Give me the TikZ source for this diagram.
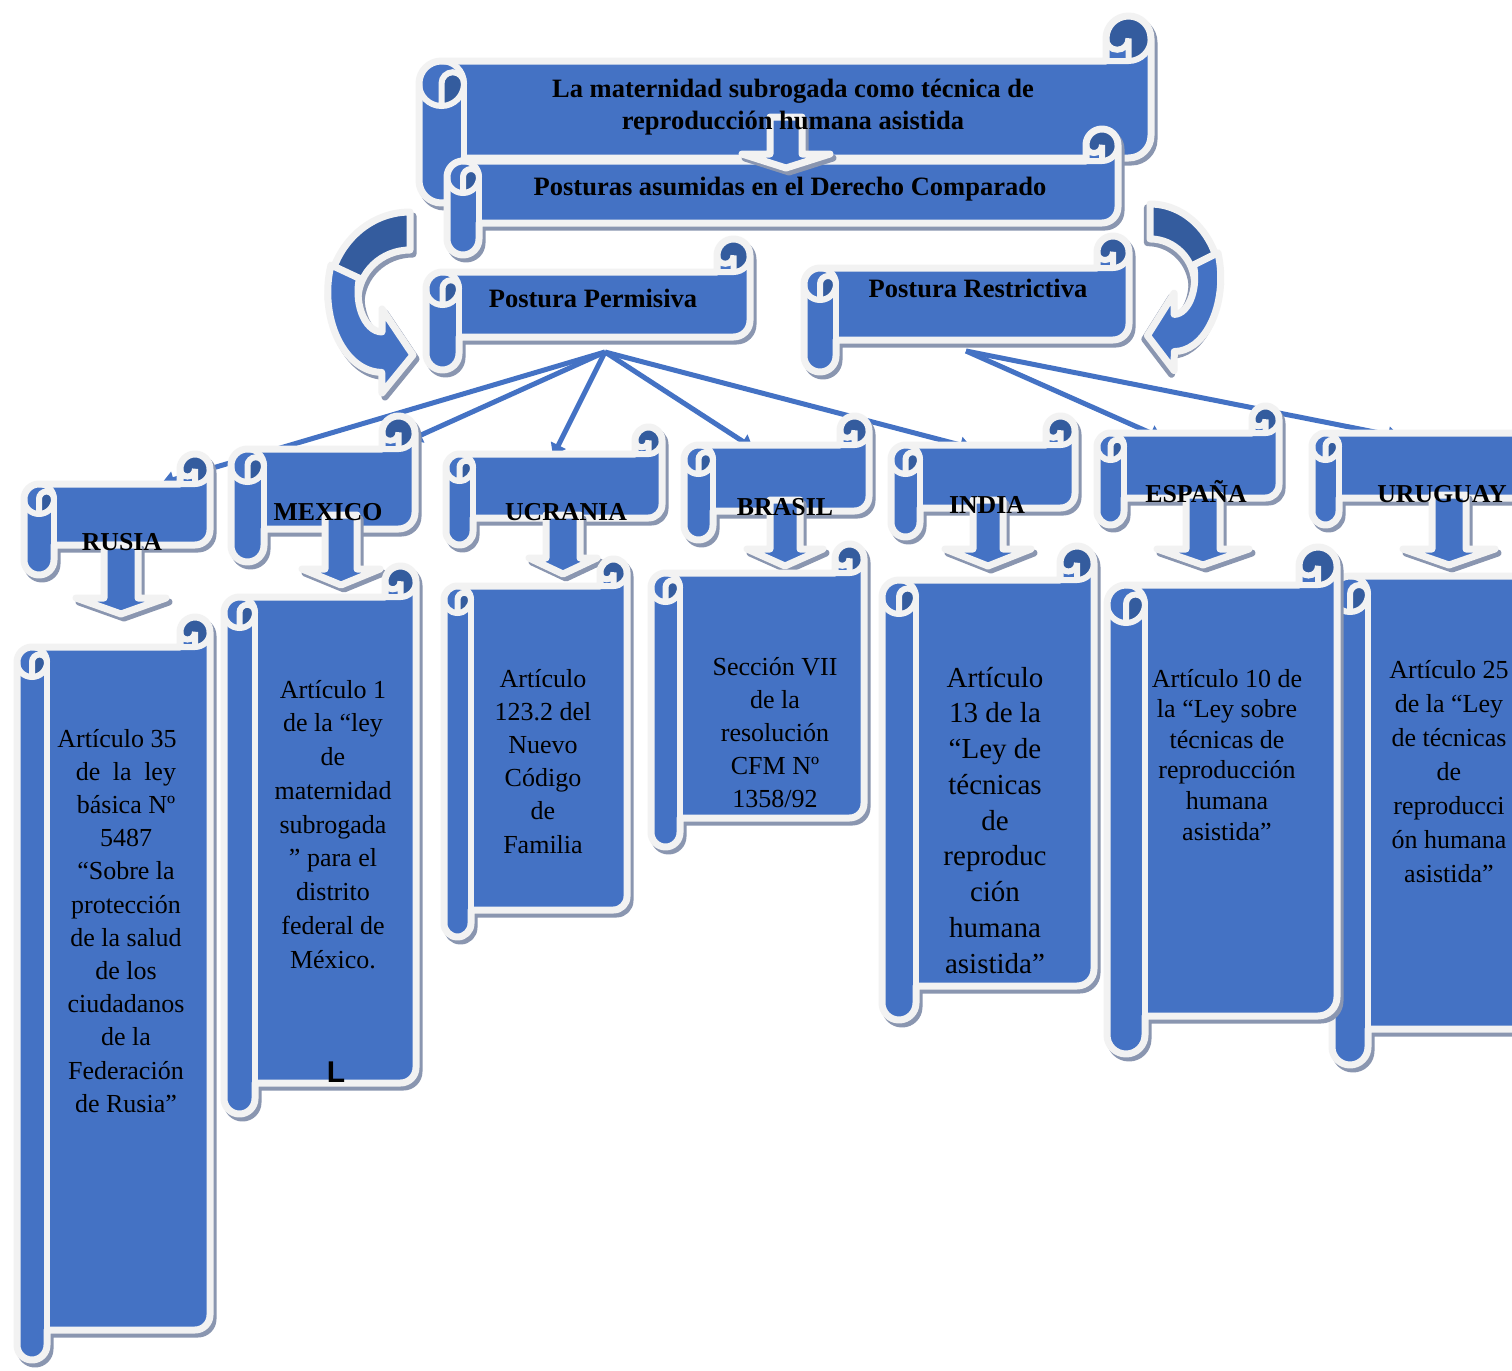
\documentclass[tikz,border=0pt]{standalone}
\usepackage{fontspec}
\setmainfont{Liberation Serif}
\newfontfamily\lsansfont{Liberation Sans}
\usetikzlibrary{arrows.meta}
\definecolor{sblue}{RGB}{68,114,196}
\definecolor{sdark}{RGB}{52,92,158}
\definecolor{sedge}{RGB}{242,242,242}
\definecolor{sshadow}{RGB}{138,150,176}

% horizontal scroll: left top right bottom curl
\newcommand\scroll[5]{%
 \def\sL{#1}\def\sT{#2}\def\sR{#3}\def\sB{#4}\def\sC{#5}%
 \path[shad,shift={(3,4)}] (\sL,\sT+1.5*\sC) arc[start angle=180,delta angle=90,radius=\sC/2]
   -- (\sR-\sC,\sT+\sC) -- (\sR-\sC,\sT+\sC/2) arc[start angle=180,delta angle=180,radius=\sC/2]
   -- (\sR,\sB-1.5*\sC) arc[start angle=0,delta angle=90,radius=\sC/2]
   -- (\sL+\sC,\sB-\sC) -- (\sL+\sC,\sB-\sC/2) arc[start angle=0,delta angle=180,radius=\sC/2] -- cycle;
 \path[fill=sblue] (\sL,\sT+1.5*\sC) arc[start angle=180,delta angle=90,radius=\sC/2]
   -- (\sR-\sC,\sT+\sC) -- (\sR-\sC,\sT+\sC/2) arc[start angle=180,delta angle=180,radius=\sC/2]
   -- (\sR,\sB-1.5*\sC) arc[start angle=0,delta angle=90,radius=\sC/2]
   -- (\sL+\sC,\sB-\sC) -- (\sL+\sC,\sB-\sC/2) arc[start angle=0,delta angle=180,radius=\sC/2] -- cycle;
 \fill[sdark] (\sL+\sC/2,\sT+2*\sC) arc[start angle=90,delta angle=-90,radius=\sC/2]
   arc[start angle=0,delta angle=-180,radius=\sC/4] -- cycle;
 \fill[sdark] (\sR-\sC/2,\sT+\sC) arc[start angle=90,delta angle=-270,radius=\sC/2]
   arc[start angle=180,delta angle=-180,radius=\sC/4] -- cycle;
 \path[edge] (\sL,\sT+1.5*\sC) arc[start angle=180,delta angle=90,radius=\sC/2]
   -- (\sR-\sC,\sT+\sC) -- (\sR-\sC,\sT+\sC/2) arc[start angle=180,delta angle=180,radius=\sC/2]
   -- (\sR,\sB-1.5*\sC) arc[start angle=0,delta angle=90,radius=\sC/2]
   -- (\sL+\sC,\sB-\sC) -- (\sL+\sC,\sB-\sC/2) arc[start angle=0,delta angle=180,radius=\sC/2] -- cycle;
 \path[detail] (\sR-\sC,\sT+\sC) -- (\sR-\sC/2,\sT+\sC) arc[start angle=90,delta angle=-90,radius=\sC/2];
 \path[detail] (\sR-\sC/2,\sT+\sC) -- (\sR-\sC/2,\sT+\sC/2) arc[start angle=0,delta angle=180,radius=\sC/4];
 \path[detail] (\sL+\sC/2,\sT+2*\sC) -- (\sL+\sC/2,\sT+1.5*\sC)
   arc[start angle=180,delta angle=180,radius=\sC/4] arc[start angle=0,delta angle=180,radius=\sC/2];
 \path[detail] (\sL+\sC/2,\sT+\sC) arc[start angle=270,delta angle=90,radius=\sC/2];
 \path[detail] (\sL+\sC,\sT+1.5*\sC) -- (\sL+\sC,\sB-\sC);
}

% down block arrow: cx top headY tipY shaftHalf headHalf
\newcommand\darrow[6]{%
 \path[shad,shift={(3,4)}] (#1-#5,#2) -- (#1+#5,#2) -- (#1+#5,#3) -- (#1+#6,#3) -- (#1,#4) -- (#1-#6,#3) -- (#1-#5,#3) -- cycle;
 \path[fill=sblue,edge] (#1-#5,#2) -- (#1+#5,#2) -- (#1+#5,#3) -- (#1+#6,#3) -- (#1,#4) -- (#1-#6,#3) -- (#1-#5,#3) -- cycle;
}

% curved arrow (left one, absolute coordinates)
\newcommand\curvarrow{%
 \path[shad,shift={(3,4)}] (410,212) arc[start angle=270,end angle=180,x radius=82,y radius=88]
   -- (358,300) arc[start angle=180,end angle=270,x radius=52,y radius=50] -- cycle;
 \path[shad,shift={(3,4)}] (331,265) arc[start angle=200,end angle=90,x radius=54,y radius=80]
   -- (382,393) -- (413,355) -- (382,309) -- (382,332) arc[start angle=90,end angle=200,x radius=24,y radius=40] -- cycle;
 \path[fill=sdark,edge] (410,212) arc[start angle=270,end angle=180,x radius=82,y radius=88]
   -- (358,300) arc[start angle=180,end angle=270,x radius=52,y radius=50] -- cycle;
 \path[fill=sblue,edge] (331,265) arc[start angle=200,end angle=90,x radius=54,y radius=80]
   -- (382,393) -- (413,355) -- (382,309) -- (382,332) arc[start angle=90,end angle=200,x radius=24,y radius=40] -- cycle;
}

\newcommand\artlines[6][]{%
 \foreach \txtline [count=\i] in {#6} \node[art,#1] (#2\i) at (#3,#4+\i*#5-#5) {\txtline};
}

\begin{document}
\begin{tikzpicture}[x=0.5pt,y=-0.5pt,
  edge/.style={draw=sedge,line width=3.5pt,line join=round},
  detail/.style={draw=sedge,line width=3pt,line cap=round},
  shad/.style={fill=sshadow,draw=sshadow,line width=3.5pt,line join=round},
  conn/.style={draw=sblue,line width=2.5pt,-{Triangle[length=6pt,width=8pt]}},
  ttl/.style={font=\fontsize{13.25pt}{16pt}\selectfont\bfseries,inner sep=0pt,anchor=base},
  ctry/.style={font=\fontsize{12.9pt}{16pt}\selectfont\bfseries,inner sep=0pt,anchor=base},
  art/.style={font=\fontsize{13pt}{16pt}\selectfont,inner sep=0pt,anchor=base}]

\useasboundingbox (0,0) rectangle (1512,1371);
\fill[white] (0,0) rectangle (1512,1371);
\clip (0,0) rectangle (1512,1371);

% connector end points
\coordinate (permb) at (605,352);
\coordinate (restb) at (966,351);
\coordinate (rusiatop) at (162,483);
\coordinate (mexicotop) at (410,440);
\coordinate (ucraniatop) at (553,456);
\coordinate (brasiltop) at (753,448);
\coordinate (indiatop) at (972,448);
\coordinate (espanatop) at (1162,438);
\coordinate (uruguaytop) at (1400,437);

\draw[conn] (permb) -- (rusiatop);
\draw[conn] (permb) -- (mexicotop);
\draw[conn] (permb) -- (ucraniatop);
\draw[conn] (permb) -- (brasiltop);
\draw[conn] (permb) -- (indiatop);
\draw[conn] (restb) -- (espanatop);
\draw[conn] (restb) -- (uruguaytop);

% curved arrows
\curvarrow
\begin{scope}[shift={(1150,204)},xscale=-0.86,yscale=0.92,shift={(-410,-212)}]
 \curvarrow
\end{scope}

% top scrolls
\scroll{419}{16}{1151}{203}{45}
\scroll{447}{129}{1118}{255}{32}
\darrow{786}{117}{154}{168}{16}{44}
\scroll{426}{239}{750}{370}{33}
\scroll{804}{236}{1129}{372}{32}

% country headers
\scroll{24}{454}{210}{575}{30}
\scroll{231}{416}{415}{562}{33}
\scroll{446}{427}{662}{545}{27}
\scroll{684}{416}{869}{540}{29}
\scroll{891}{416}{1075}{537}{29}
\scroll{1097}{406}{1279}{525}{27}
\scroll{1312}{406}{1548}{525}{27}

% down arrows
\darrow{121}{545}{598}{614}{17}{45}
\darrow{341}{515}{569}{585}{16}{39}
\darrow{563}{515}{558}{574}{17}{34}
\darrow{785}{500}{549}{566}{15}{38}
\darrow{988}{500}{549}{566}{15}{43}
\darrow{1203}{495}{549}{565}{17}{46}
\darrow{1449}{495}{549}{565}{17}{46}

% article scrolls
\scroll{17}{617}{210}{1360}{30}
\scroll{224}{566}{416}{1114}{31}
\scroll{444}{559}{627}{937}{27}
\scroll{651}{544}{864}{847}{29}
\scroll{882}{546}{1094}{1020}{34}
\scroll{1332}{540}{1580}{1065}{36}
\scroll{1107}{547}{1337}{1054}{38}

% texts
\node[ttl] (t1a) at (793,97) {La maternidad subrogada como técnica de};
\node[ttl] (t1b) at (793,129) {reproducción humana asistida};
\node[ttl] (t2) at (790,195) {Posturas asumidas en el Derecho Comparado};
\node[ttl] (t3) at (593,307) {Postura Permisiva};
\node[ttl] (t4) at (978,297) {Postura Restrictiva};

\node[ctry] (c1) at (122,550) {RUSIA};
\node[ctry] (c2) at (328,520) {MEXICO};
\node[ctry] (c3) at (566,520) {UCRANIA};
\node[ctry] (c4) at (785,515) {BRASIL};
\node[ctry] (c5) at (987,513) {INDIA};
\node[ctry] (c6) at (1196,502) {ESPAÑA};
\node[ctry] (c7) at (1442,502) {URUGUAY};

\artlines{rus}{126}{747}{33.2}{{Artículo 35\hspace*{9pt}}, {de\hskip3pt\ la\hskip3pt\ ley}, básica Nº, 5487, “Sobre la, protección, de la salud, de los, ciudadanos, de la, Federación, de Rusia”}
\artlines{mex}{333}{698}{33.75}{Artículo 1, de la “ley, de, maternidad, subrogada, ” para el, distrito, federal de, México.}
\artlines{ucr}{543}{687}{33.2}{Artículo, 123.2 del, Nuevo, Código, de, Familia}
\artlines{bra}{775}{675}{33}{Sección VII, de la, resolución, CFM Nº, 1358/92}
\artlines[font=\fontsize{14.5pt}{18pt}\selectfont]{ind}{995}{687}{35.75}{Artículo, 13 de la, “Ley de, técnicas, de, reproduc, ción, humana, asistida”}
\artlines{esp}{1227}{687}{30.6}{Artículo 10 de, la “Ley sobre, técnicas de, reproducción, humana, asistida”}
\artlines{uru}{1449}{678}{34}{Artículo 25, de la “Ley, de técnicas, de, reproducci, ón humana, asistida”}

\node[font=\lsansfont\bfseries\fontsize{15pt}{18pt}\selectfont,inner sep=0pt,anchor=base] (mexL) at (336,1082) {L};

\end{tikzpicture}
\end{document}
